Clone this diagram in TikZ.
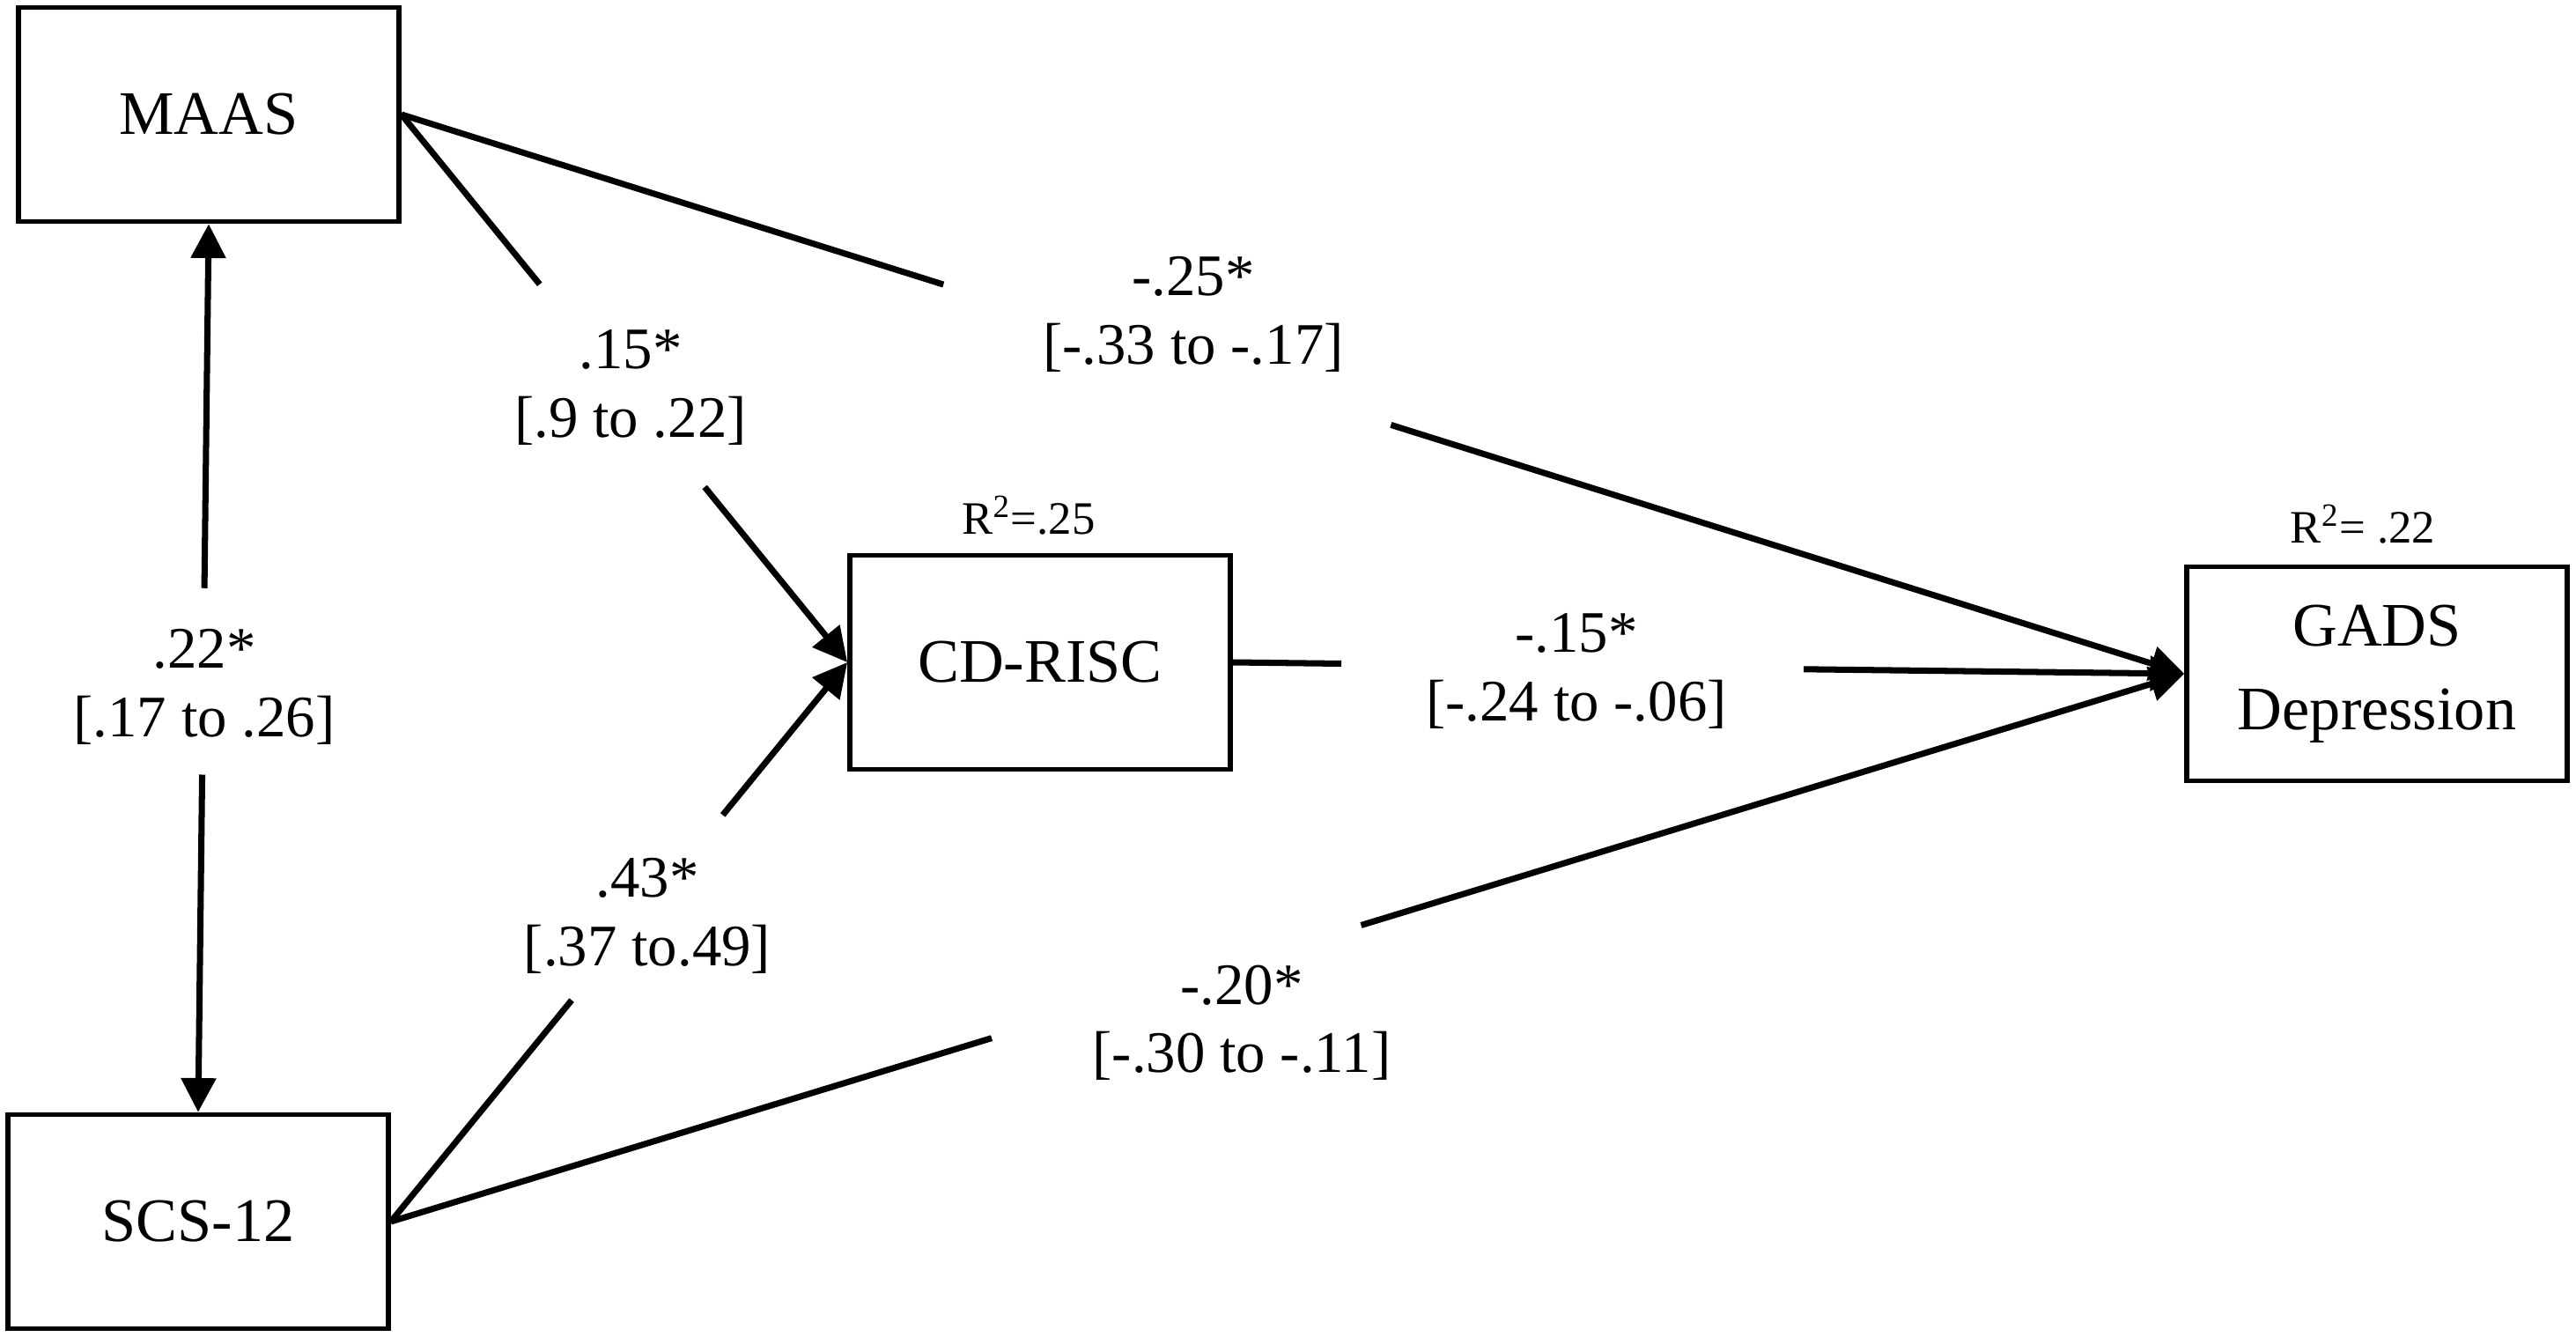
\documentclass[tikz,border=0pt]{standalone}
\usepackage{fontspec}
\setmainfont{Liberation Serif}
\usetikzlibrary{arrows.meta,calc}

\begin{document}
\begin{tikzpicture}[
  var/.style={rectangle, draw, line width=1.6pt, minimum width=4.32cm,
    minimum height=2.43cm, inner sep=0pt, align=center,
    font=\fontsize{20}{27}\selectfont},
  coef/.style={align=center, inner sep=0pt, font=\fontsize{19}{22}\selectfont},
  rsq/.style={inner sep=0pt, font=\fontsize{15}{17}\selectfont},
  link/.style={draw=black, line width=2pt},
  arrowlink/.style={link, -{Triangle[length=11pt, width=11pt]}}
]
  \useasboundingbox (0,0) rectangle (29.25,15.17);

  % Measures.
  \node[var] (maas) at (2.37,13.87) {MAAS};
  \node[var] (scs) at (2.25,1.30) {SCS-12};
  \node[var] (cdrisc) at (11.81,7.65) {CD-RISC};
  \node[var] (gads) at (26.99,7.52) {GADS\\Depression};
  \node[rsq] (r2c) at (11.68,9.32) {R\textsuperscript{2}=.25};
  \node[rsq] (r2g) at (26.83,9.22) {R\textsuperscript{2}= .22};

  % Coefficients.
  \node[coef] (b22) at (2.32,7.37) {.22*\\{[}.17 to .26]};
  \node[coef] (b15) at (7.16,10.77) {.15*\\{[}.9 to .22]};
  \node[coef] (b43) at (7.35,4.77) {.43*\\{[}.37 to.49]};
  \node[coef] (bn25) at (13.55,11.60) {-.25*\\{[}-.33 to -.17]};
  \node[coef] (bn20) at (14.10,3.56) {-.20*\\{[}-.30 to -.11]};
  \node[coef] (bn15) at (17.90,7.55) {-.15*\\{[}-.24 to -.06]};

  % Gap ends of the broken paths.
  \coordinate (ms1) at ($(maas.south)!0.41!(scs.north)$);
  \coordinate (ms2) at ($(maas.south)!0.62!(scs.north)$);
  \coordinate (mc1) at ($(maas.east)!0.31!(cdrisc.west)$);
  \coordinate (mc2) at ($(maas.east)!0.68!(cdrisc.west)$);
  \coordinate (sc1) at ($(scs.east)!0.396!(cdrisc.west)$);
  \coordinate (sc2) at ($(scs.east)!0.727!(cdrisc.west)$);
  \coordinate (mg1) at ($(maas.east)!0.304!(gads.west)$);
  \coordinate (mg2) at ($(maas.east)!0.555!(gads.west)$);
  \coordinate (cg1) at ($(cdrisc.east)!0.114!(gads.west)$);
  \coordinate (cg2) at ($(cdrisc.east)!0.600!(gads.west)$);
  \coordinate (sg1) at ($(scs.east)!0.335!(gads.west)$);
  \coordinate (sg2) at ($(scs.east)!0.541!(gads.west)$);

  % Paths.
  \draw[arrowlink] (ms1) -- (maas.south);
  \draw[arrowlink] (ms2) -- (scs.north);
  \draw[link] (maas.east) -- (mc1);
  \draw[arrowlink] (mc2) -- (cdrisc.west);
  \draw[link] (scs.east) -- (sc1);
  \draw[arrowlink] (sc2) -- (cdrisc.west);
  \draw[link] (maas.east) -- (mg1);
  \draw[arrowlink] (mg2) -- (gads.west);
  \draw[link] (cdrisc.east) -- (cg1);
  \draw[arrowlink] (cg2) -- (gads.west);
  \draw[link] (scs.east) -- (sg1);
  \draw[arrowlink] (sg2) -- (gads.west);
\end{tikzpicture}
\end{document}
